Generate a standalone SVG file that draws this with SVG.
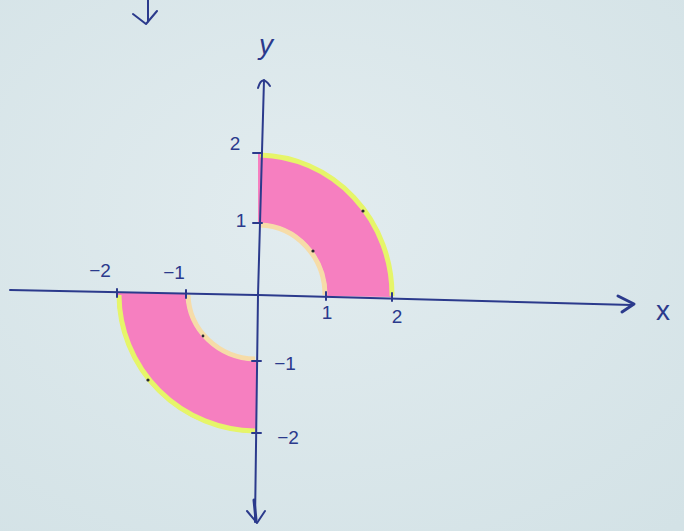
<svg xmlns="http://www.w3.org/2000/svg" width="684" height="531" viewBox="0 0 684 531">
<defs>
<radialGradient id="bg" cx="0.45" cy="0.4" r="0.8">
<stop offset="0" stop-color="#e2ecef"/>
<stop offset="1" stop-color="#d3e2e6"/>
</radialGradient>
</defs>
<style>
.pen{stroke:#2b3a8c;fill:none;stroke-linecap:round;stroke-linejoin:round}
.lbl{font-family:"Liberation Sans",Arial,sans-serif;font-size:19px;fill:#2b3a8c}
.big{font-size:28px}
.pink{fill:#f67fc0}
.outer{fill:none;stroke:#e6f569;stroke-width:5}
.inner{fill:none;stroke:#f6dca8;stroke-width:5}
.dot{fill:#2a2a30}
</style>
<rect width="684" height="531" fill="url(#bg)"/>
<g id="region-q1">
<path class="pink" d="M258,153 A137 142 0 0 1 393,297 L327,296 A69 72 0 0 0 258,223 Z"/>
<path class="outer" d="M260,155 A135 140 0 0 1 392,296"/>
<path class="inner" d="M260,225 A67 70 0 0 1 325,295"/>
<circle class="dot" cx="363" cy="211" r="1.6"/>
<circle class="dot" cx="313" cy="251" r="1.6"/>
</g>
<g id="region-q3">
<path class="pink" d="M117,293 A140 140 0 0 0 257,433 L257,361 A71 68 0 0 1 186,293 Z"/>
<path class="outer" d="M119,295 A138 137 0 0 0 255,431"/>
<path class="inner" d="M188,295 A69 66 0 0 0 255,359"/>
<circle class="dot" cx="148" cy="380" r="1.6"/>
<circle class="dot" cx="203" cy="336" r="1.4"/>
</g>
<g id="connectors">
<path class="pen" stroke-width="2" d="M10,290 L258,295 L632,305"/>
<path class="pen" stroke-width="3" d="M618,296 L634,304 L622,312"/>
<path class="pen" stroke-width="2" d="M264,80 L258,295 L255,522"/>
<path class="pen" stroke-width="2" d="M258,88 Q262,74 270,86"/>
<path class="pen" stroke-width="2" d="M247,511 L257,523 L265,511"/>
<path class="pen" stroke-width="3" d="M254,500 L256,520"/>
<path class="pen" stroke-width="2" d="M148,0 L148,22 M133,14 L146,24 L157,11"/>
<path class="pen" stroke-width="2" d="M117,289 L117,297 M186,290 L186,298 M326,292 L326,300 M392,293 L392,301 M253,223 L262,223 M253,153 L262,153 M252,361 L261,361 M252,433 L261,433"/>
</g>
<g id="labels">
<text class="lbl" x="235" y="150" text-anchor="middle">2</text>
<text class="lbl" x="241" y="227" text-anchor="middle">1</text>
<text class="lbl" x="327" y="319" text-anchor="middle">1</text>
<text class="lbl" x="397" y="323" text-anchor="middle">2</text>
<text class="lbl" x="100" y="277" text-anchor="middle">−2</text>
<text class="lbl" x="174" y="279" text-anchor="middle">−1</text>
<text class="lbl" x="285" y="370" text-anchor="middle">−1</text>
<text class="lbl" x="288" y="444" text-anchor="middle">−2</text>
<text class="lbl big" x="266" y="54" text-anchor="middle" font-style="italic">y</text>
<text class="lbl big" x="663" y="320" text-anchor="middle">x</text>
</g>
</svg>
